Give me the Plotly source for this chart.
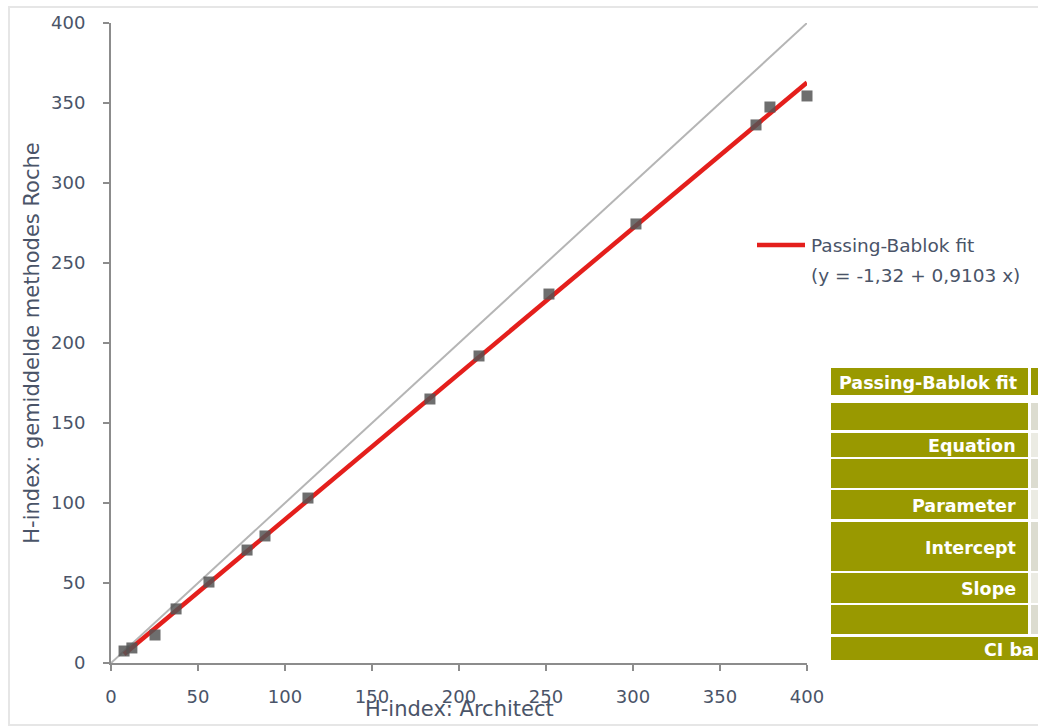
import plotly.graph_objects as go

# Method comparison: Architect vs averaged Roche methods
architect = [7.5, 12, 25.3, 37.4, 56.3, 78.2, 88.5, 113.2, 183.3, 211.5, 251.7, 301.7, 370.7, 378.7, 400]
roche = [7.5, 9.4, 17.5, 33.8, 50.6, 70.6, 79.4, 103.1, 165, 191.9, 230.6, 274.4, 336.3, 347.5, 354.4]

# Passing-Bablok regression coefficients
intercept = -1.32
slope = 0.9103

axis_ticks = [0, 50, 100, 150, 200, 250, 300, 350, 400]

table_labels = ["Passing-Bablok fit", "", "Equation", "", "Parameter", "Intercept", "Slope", "", "CI ba"]

# page geometry (plot area in pixels)
W, H = 1038, 727
L, R, T, B = 111, 807, 23, 663

TXT = "#4a5468"
FONT = "DejaVu Sans, sans-serif"


def px(x):
    return (x - L) / (R - L)


def py(y):
    return (B - y) / (B - T)


fit_x = [min(architect), max(architect)]
fit_y = [intercept + slope * v for v in fit_x]

fig = go.Figure()
fig.add_trace(go.Scatter(x=[0, 400], y=[0, 400], mode="lines",
                         line=dict(color="#b5b5b5", width=2), hoverinfo="skip"))
fig.add_trace(go.Scatter(x=fit_x, y=fit_y, mode="lines",
                         line=dict(color="#e41f1c", width=4.5)))
fig.add_trace(go.Scatter(x=architect, y=roche, mode="markers", cliponaxis=False,
                         marker=dict(symbol="square", size=11, color="rgba(85,85,85,0.85)",
                                     line=dict(width=0))))

tick_font = dict(family=FONT, size=18, color=TXT)
axis_common = dict(range=[0, 400], tickvals=axis_ticks, showgrid=False, zeroline=False,
                   showline=True, linecolor="#8c8c8c", linewidth=2, ticks="outside",
                   ticklen=6, tickwidth=2, tickcolor="#8c8c8c", tickfont=tick_font,
                   automargin=False)

fig.update_layout(
    width=W, height=H,
    margin=dict(l=L, r=W - R, t=T, b=H - B),
    paper_bgcolor="white", plot_bgcolor="white",
    showlegend=False,
    xaxis=dict(**axis_common, ticklabelstandoff=10),
    yaxis=dict(**axis_common, ticklabelstandoff=14,
               title=dict(text="H-index: gemiddelde methodes Roche", standoff=6,
                          font=dict(family=FONT, size=21, color=TXT))),
)

shapes = []
# outer chart frame
shapes.append(dict(type="rect", xref="paper", yref="paper",
                   x0=px(9), x1=px(1060), y0=py(725), y1=py(7),
                   line=dict(color="#e6e6e6", width=2), fillcolor="rgba(0,0,0,0)", layer="below"))

# x-axis title, sitting low over the tick labels
annotations = [dict(xref="paper", yref="paper", x=px(459), y=py(709), xanchor="center", yanchor="middle",
                    text="H-index: Architect", showarrow=False,
                    font=dict(family=FONT, size=21, color=TXT))]

# legend entry
shapes.append(dict(type="line", xref="paper", yref="paper",
                   x0=px(757), x1=px(805), y0=py(245), y1=py(245),
                   line=dict(color="#e41f1c", width=4.5)))
eq_text = "(y = {} + {} x)".format(f"{intercept:.2f}".replace(".", ","),
                                    f"{slope:.4f}".replace(".", ","))
annotations += [dict(xref="paper", yref="paper", x=px(809), y=py(245), xanchor="left", yanchor="middle",
                     text="Passing-Bablok fit", showarrow=False, align="left",
                     font=dict(family=FONT, size=18.5, color=TXT)),
                dict(xref="paper", yref="paper", x=px(809), y=py(275), xanchor="left", yanchor="middle",
                     text=eq_text, showarrow=False, align="left",
                     font=dict(family=FONT, size=18.5, color=TXT))]

# results table rows: (top, bottom) in pixels
rows = [(368, 395), (403, 430), (433, 457), (459, 488), (490, 519),
        (522, 571), (573, 603), (605, 634), (637, 660)]
olive = "#999900"
for i, ((t, b), lab) in enumerate(zip(rows, table_labels)):
    last = i == len(rows) - 1
    shapes.append(dict(type="rect", xref="paper", yref="paper",
                       x0=px(831), x1=px(1060 if last else 1028), y0=py(b), y1=py(t),
                       line=dict(width=0), fillcolor=olive))
    if not last:
        shapes.append(dict(type="rect", xref="paper", yref="paper",
                           x0=px(1031), x1=px(1060), y0=py(b), y1=py(t),
                           line=dict(width=0),
                           fillcolor=olive if i == 0 else ("#dcdcd0" if i % 2 else "#ebebe3")))
    if lab:
        if i == 0:
            xa, anch = px(837), "left"
        elif last:
            xa, anch = px(982), "left"
        else:
            xa, anch = px(1018), "right"
        annotations.append(dict(xref="paper", yref="paper", x=xa, y=py((t + b) / 2 + 1),
                                xanchor=anch, yanchor="middle", text=f"<b>{lab}</b>",
                                showarrow=False,
                                font=dict(family=FONT, size=17.5, color="white")))

fig.update_layout(shapes=shapes, annotations=annotations)
fig.write_html("out.html")
